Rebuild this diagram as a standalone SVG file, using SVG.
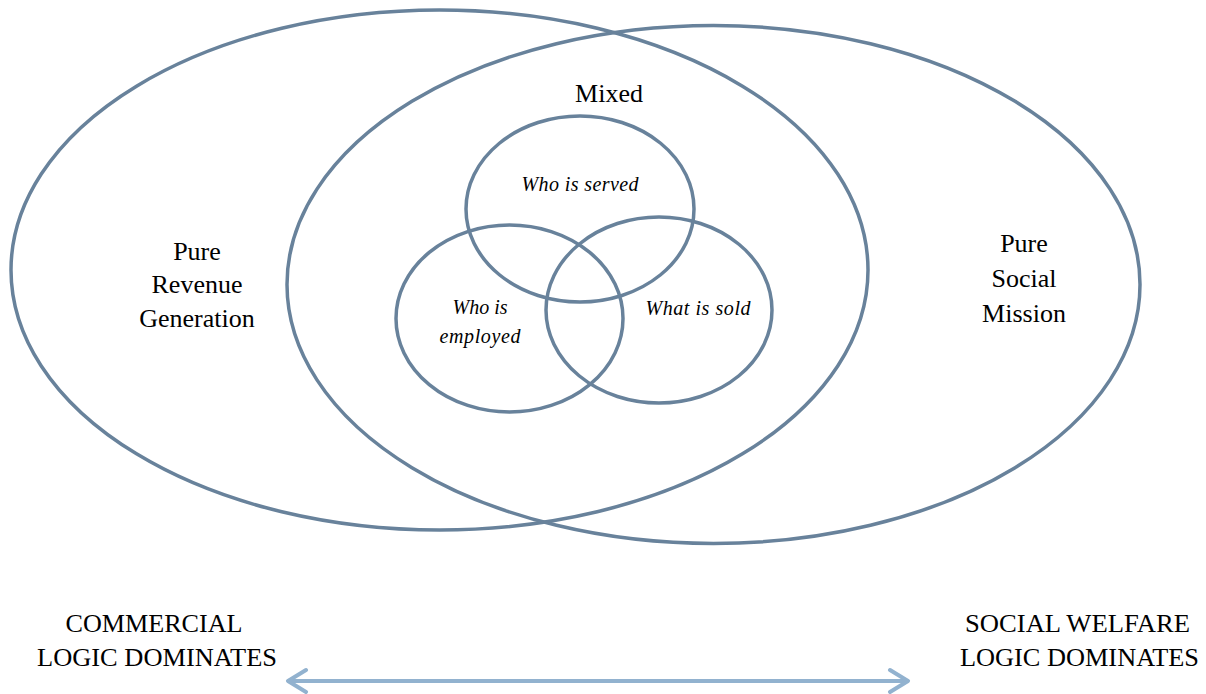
<svg xmlns="http://www.w3.org/2000/svg" width="1206" height="694" viewBox="0 0 1206 694">
<style>
.shape{fill:none;stroke:#68829b;stroke-width:3.5}
.lbl{font-family:"Liberation Serif","Times New Roman",serif;font-size:26px;fill:#000;text-anchor:middle}
.it{font-family:"Liberation Serif","Times New Roman",serif;font-size:20px;font-style:italic;fill:#000;text-anchor:middle}
.cap{font-family:"Liberation Serif","Times New Roman",serif;font-size:25px;fill:#000;text-anchor:middle}
.arrow{fill:none;stroke:#92b2cf;stroke-width:4;stroke-linecap:round;stroke-linejoin:round}
</style>
<rect width="1206" height="694" fill="#fff"/>
<g id="pure-revenue">
<ellipse class="shape" cx="439.5" cy="270" rx="428.5" ry="260"/>
<text class="lbl" x="197" y="260">Pure</text>
<text class="lbl" x="197" y="293">Revenue</text>
<text class="lbl" x="197" y="327">Generation</text>
</g>
<g id="pure-social">
<ellipse class="shape" cx="713.5" cy="284.5" rx="426.5" ry="259"/>
<text class="lbl" x="1024" y="252">Pure</text>
<text class="lbl" x="1024" y="287">Social</text>
<text class="lbl" x="1024" y="322">Mission</text>
</g>
<g id="mixed">
<text class="lbl" x="609" y="102">Mixed</text>
</g>
<g id="who-is-served">
<ellipse class="shape" cx="580" cy="209" rx="114" ry="93"/>
<text class="it" x="580" y="191" textLength="117" lengthAdjust="spacing">Who is served</text>
</g>
<g id="who-is-employed">
<ellipse class="shape" cx="509.5" cy="318.5" rx="113.5" ry="93.5"/>
<text class="it" x="480" y="314">Who is</text>
<text class="it" x="480" y="343" textLength="81" lengthAdjust="spacing">employed</text>
</g>
<g id="what-is-sold">
<ellipse class="shape" cx="659" cy="310" rx="113" ry="93"/>
<text class="it" x="698" y="315" textLength="105" lengthAdjust="spacing">What is sold</text>
</g>
<g id="commercial">
<text class="cap" x="154" y="632" textLength="177" lengthAdjust="spacingAndGlyphs">COMMERCIAL</text>
<text class="cap" x="157" y="666" textLength="240" lengthAdjust="spacingAndGlyphs">LOGIC DOMINATES</text>
</g>
<g id="social-welfare">
<text class="cap" x="1077.5" y="632" textLength="225" lengthAdjust="spacingAndGlyphs">SOCIAL WELFARE</text>
<text class="cap" x="1079.5" y="666" textLength="239" lengthAdjust="spacingAndGlyphs">LOGIC DOMINATES</text>
</g>
<g id="connectors">
<line class="arrow" x1="289" y1="681" x2="907" y2="681"/>
<polyline class="arrow" points="306,670 288,681 306,692"/>
<polyline class="arrow" points="890,670 908,681 890,692"/>
</g>
</svg>
